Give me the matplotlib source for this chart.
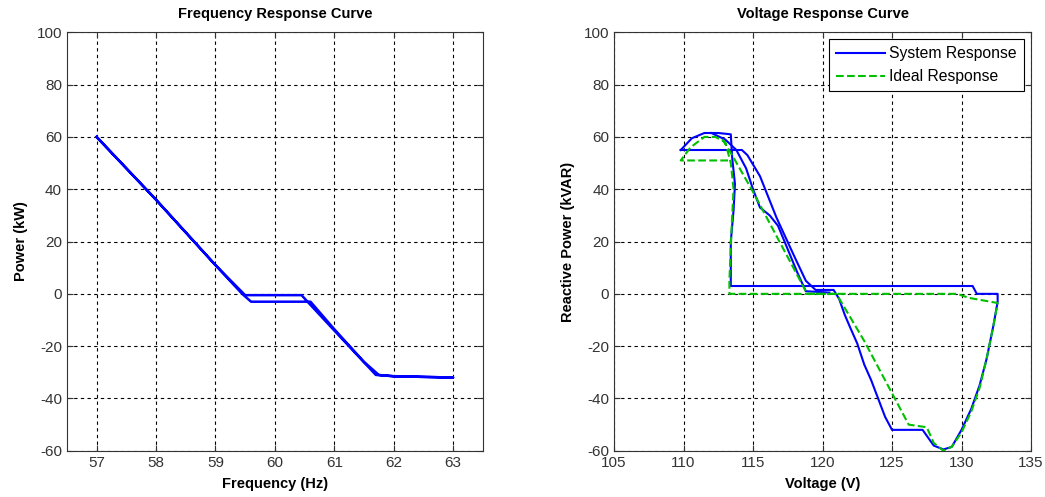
import matplotlib
matplotlib.use('Agg')
import matplotlib.pyplot as plt

plt.rcParams['font.family'] = ['Liberation Sans', 'DejaVu Sans']
plt.rcParams['font.size'] = 11
plt.rcParams['axes.unicode_minus'] = False

# frequency response (loop: up then back)
freq = [57.0, 57.5, 58.0, 58.5, 59.0, 59.45, 59.6, 60.0, 60.6, 61.0, 61.5, 61.75, 62.0, 63.0,
        62.0, 61.7, 61.0, 60.55, 60.45, 60.0, 59.5, 59.0, 58.0, 57.0]
power = [60.0, 48.0, 36.0, 23.5, 11.0, 0.0, -3.0, -3.0, -3.0, -13.5, -26.0, -31.0, -31.5, -32.0,
         -31.5, -31.0, -14.0, -3.0, -0.5, -0.5, -0.5, 11.0, 36.0, 60.0]

# voltage response - system
sys_v1 = [109.8, 114.2, 114.6, 115.5, 116.7, 118.0, 118.8, 119.2, 119.5, 120.8, 121.2, 121.6,
          122.0, 122.5, 123.0, 123.5, 124.0, 124.5, 125.0, 127.2, 127.6, 128.0, 128.7, 129.3,
          130.0, 130.7, 131.3, 131.8, 132.3, 132.6, 132.6, 131.1, 130.8, 113.4, 113.4, 113.6,
          113.7, 113.5, 113.4, 112.5, 111.5, 110.6, 109.8]
sys_q1 = [55.0, 55.0, 53.0, 45.0, 29.0, 14.0, 5.0, 3.0, 1.5, 1.5, -2.0, -8.0,
          -13.0, -19.0, -27.0, -33.0, -40.0, -47.0, -52.0, -52.0, -55.0, -58.0, -59.5, -58.5,
          -52.0, -44.0, -35.0, -25.0, -12.0, -3.0, 0.0, 0.0, 3.0, 3.0, 20.0, 32.0,
          42.0, 52.0, 61.0, 61.5, 61.5, 59.5, 55.0]
sys_v2 = [112.0, 113.0, 113.8, 114.5, 115.0, 115.5, 116.2, 116.8, 117.5, 118.2, 118.8, 120.5]
sys_q2 = [61.5, 59.0, 55.0, 48.0, 40.0, 33.0, 30.0, 26.0, 17.0, 8.0, 1.0, 0.5]

# voltage response - ideal
ideal_v = [113.2, 109.8, 110.5, 111.5, 112.3, 113.0, 113.4, 113.6, 113.5, 113.4, 113.3, 113.3,
           129.7, 130.5, 132.6, 132.3, 131.8, 131.3, 130.7, 130.0, 129.3, 128.7, 128.0, 127.5,
           126.2, 125.0, 124.0, 123.0, 122.0, 121.0, 118.9, 117.0, 115.0, 113.5, 112.7]
ideal_q = [51.0, 51.0, 56.0, 60.0, 60.0, 58.0, 50.0, 40.0, 30.0, 18.0, 5.0, 0.0,
           0.0, -1.5, -3.5, -12.0, -25.0, -36.0, -45.0, -53.0, -58.5, -60.0, -57.0, -51.0,
           -50.0, -38.0, -28.0, -18.0, -9.0, 0.0, 0.0, 19.0, 39.0, 53.0, 60.0]

fig = plt.figure(figsize=(10.45, 4.97), dpi=100)
ax1 = fig.add_axes([0.064, 0.093, 0.398, 0.842])
ax2 = fig.add_axes([0.5876, 0.093, 0.399, 0.842])

grid_kw = dict(color='black', linestyle=(0, (3, 3)), linewidth=0.8)

ax1.plot(freq, power, color='#0000ff', linewidth=1.8)
ax1.set_xlim(56.5, 63.5)
ax1.set_ylim(-60, 100)
ax1.set_xticks(range(57, 64))
ax1.set_yticks(range(-60, 101, 20))
ax1.set_title('Frequency Response Curve', fontweight='bold', fontsize=10.5, pad=10)
ax1.set_xlabel('Frequency (Hz)', fontweight='bold', fontsize=10.5, labelpad=5)
ax1.set_ylabel('Power (kW)', fontweight='bold', fontsize=10.5, labelpad=6)

l1, = ax2.plot(sys_v1, sys_q1, color='#0000ff', linewidth=1.5, label='System Response')
ax2.plot(sys_v2, sys_q2, color='#0000ff', linewidth=1.5)
l2, = ax2.plot(ideal_v, ideal_q, color='#00c000', linewidth=1.5, linestyle='--',
               label='Ideal Response')
ax2.set_xlim(105, 135)
ax2.set_ylim(-60, 100)
ax2.set_xticks(range(105, 136, 5))
ax2.set_yticks(range(-60, 101, 20))
ax2.set_title('Voltage Response Curve', fontweight='bold', fontsize=10.5, pad=10)
ax2.set_xlabel('Voltage (V)', fontweight='bold', fontsize=10.5, labelpad=5)
ax2.set_ylabel('Reactive Power (kVAR)', fontweight='bold', fontsize=10.5, labelpad=6)
leg = ax2.legend(handles=[l1, l2], loc='upper right', fancybox=False, framealpha=1,
                 edgecolor='black', borderaxespad=0.45, handlelength=3.1, handletextpad=0.3,
                 labelspacing=0.5, borderpad=0.45, fontsize=11.3)
leg.get_frame().set_linewidth(0.8)

for ax in (ax1, ax2):
    ax.grid(True, **grid_kw)
    ax.tick_params(direction='in', top=True, right=True, length=4, colors='#333333',
                   labelcolor='#333333', labelsize=11)
    for s in ax.spines.values():
        s.set_color('#333333')
        s.set_linewidth(0.8)

fig.savefig('out.png', dpi=100)
